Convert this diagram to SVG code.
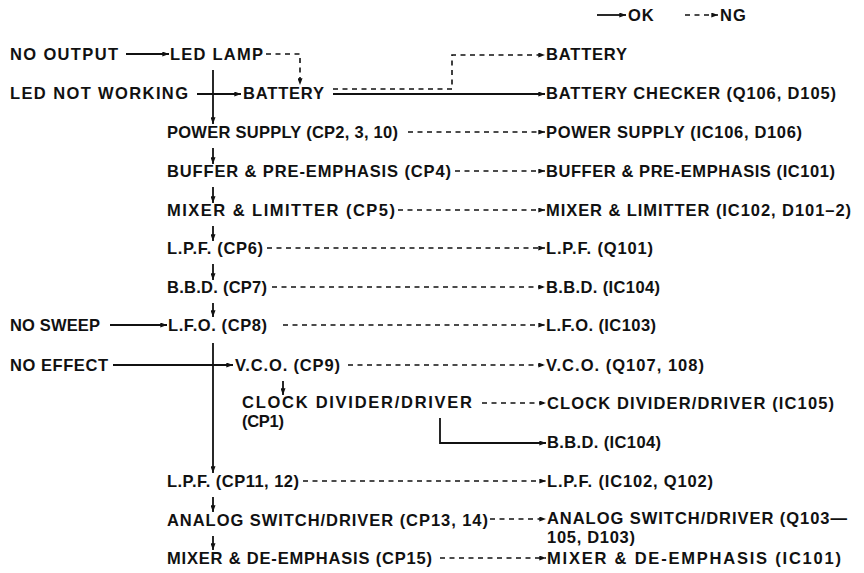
<svg xmlns="http://www.w3.org/2000/svg" width="864" height="573" viewBox="0 0 864 573">
<defs>
<style>
.t{font-family:"Liberation Sans",Arial,sans-serif;font-weight:bold;font-size:16.5px;fill:#111}
.s{stroke:#111;stroke-width:1.8;fill:none}
.d{stroke:#111;stroke-width:1.6;fill:none;stroke-dasharray:5 4.5}
</style>
<marker id="a" viewBox="0 0 8 6" markerWidth="7" markerHeight="5" refX="8" refY="3" orient="auto" markerUnits="userSpaceOnUse">
<path d="M0,0 L8,3 L0,6 z" fill="#111"/>
</marker>
</defs>
<rect width="864" height="573" fill="#fff"/>

<g id="legend">
<line class="s" x1="597" y1="15" x2="626" y2="15" marker-end="url(#a)"/>
<text class="t" x="628" y="21" letter-spacing="1">OK</text>
<line class="d" x1="685" y1="15" x2="718" y2="15" marker-end="url(#a)"/>
<text class="t" x="720" y="21" letter-spacing="1">NG</text>
</g>

<g id="connectors">
<line class="s" x1="126" y1="54" x2="169" y2="54" marker-end="url(#a)"/>
<path class="d" d="M266,54 H300 V85" marker-end="url(#a)"/>
<line class="s" x1="197" y1="94" x2="241" y2="94" marker-end="url(#a)"/>
<line class="s" x1="213" y1="70" x2="213" y2="124" marker-end="url(#a)"/>
<line class="s" x1="333" y1="94" x2="545" y2="94" marker-end="url(#a)"/>
<path class="d" d="M333,89 H452 V55 H545" marker-end="url(#a)"/>
<line class="d" x1="408" y1="132" x2="545" y2="132" marker-end="url(#a)"/>
<line class="s" x1="213" y1="148" x2="213" y2="164" marker-end="url(#a)"/>
<line class="d" x1="455" y1="171" x2="545" y2="171" marker-end="url(#a)"/>
<line class="s" x1="213" y1="187" x2="213" y2="203" marker-end="url(#a)"/>
<line class="d" x1="398" y1="210" x2="545" y2="210" marker-end="url(#a)"/>
<line class="s" x1="213" y1="226" x2="213" y2="241" marker-end="url(#a)"/>
<line class="d" x1="267" y1="248" x2="545" y2="248" marker-end="url(#a)"/>
<line class="s" x1="213" y1="264" x2="213" y2="280" marker-end="url(#a)"/>
<line class="d" x1="272" y1="287" x2="545" y2="287" marker-end="url(#a)"/>
<line class="s" x1="213" y1="303" x2="213" y2="317" marker-end="url(#a)"/>
<line class="s" x1="110" y1="325" x2="167" y2="325" marker-end="url(#a)"/>
<line class="d" x1="283" y1="325" x2="545" y2="325" marker-end="url(#a)"/>
<line class="s" x1="113" y1="365" x2="233" y2="365" marker-end="url(#a)"/>
<line class="s" x1="213" y1="343" x2="213" y2="473" marker-end="url(#a)"/>
<line class="d" x1="348" y1="365" x2="545" y2="365" marker-end="url(#a)"/>
<line class="s" x1="283" y1="381" x2="283" y2="395" marker-end="url(#a)"/>
<line class="d" x1="482" y1="403" x2="546" y2="403" marker-end="url(#a)"/>
<path class="s" d="M440,418 V443 H546" marker-end="url(#a)"/>
<line class="d" x1="303" y1="481" x2="546" y2="481" marker-end="url(#a)"/>
<line class="s" x1="213" y1="497" x2="213" y2="512" marker-end="url(#a)"/>
<line class="d" x1="490" y1="519" x2="546" y2="519" marker-end="url(#a)"/>
<line class="s" x1="213" y1="536" x2="213" y2="550" marker-end="url(#a)"/>
<line class="d" x1="440" y1="558" x2="546" y2="558" marker-end="url(#a)"/>
</g>

<g id="n-no-output"><text class="t" x="10" y="60" textLength="108">NO OUTPUT</text></g>
<g id="n-led-lamp"><text class="t" x="170" y="60" textLength="93">LED LAMP</text></g>
<g id="n-battery-ng"><text class="t" x="546" y="60" textLength="81">BATTERY</text></g>
<g id="n-led-not-working"><text class="t" x="10" y="99" textLength="178">LED NOT WORKING</text></g>
<g id="n-battery"><text class="t" x="243" y="99" textLength="81">BATTERY</text></g>
<g id="n-battery-checker"><text class="t" x="546" y="99" textLength="290">BATTERY CHECKER (Q106, D105)</text></g>
<g id="n-power"><text class="t" x="167" y="138" textLength="231">POWER SUPPLY (CP2, 3, 10)</text></g>
<g id="n-power-ng"><text class="t" x="546" y="138" textLength="256">POWER SUPPLY (IC106, D106)</text></g>
<g id="n-buffer"><text class="t" x="167" y="177" textLength="284">BUFFER &amp; PRE-EMPHASIS (CP4)</text></g>
<g id="n-buffer-ng"><text class="t" x="546" y="177" textLength="289">BUFFER &amp; PRE-EMPHASIS (IC101)</text></g>
<g id="n-mixer"><text class="t" x="167" y="216" textLength="228">MIXER &amp; LIMITTER (CP5)</text></g>
<g id="n-mixer-ng"><text class="t" x="546" y="216" textLength="305">MIXER &amp; LIMITTER (IC102, D101–2)</text></g>
<g id="n-lpf"><text class="t" x="167" y="254" textLength="96">L.P.F. (CP6)</text></g>
<g id="n-lpf-ng"><text class="t" x="546" y="254" textLength="107">L.P.F. (Q101)</text></g>
<g id="n-bbd"><text class="t" x="167" y="293" textLength="100">B.B.D. (CP7)</text></g>
<g id="n-bbd-ng"><text class="t" x="546" y="293" textLength="114">B.B.D. (IC104)</text></g>
<g id="n-no-sweep"><text class="t" x="10" y="331" textLength="90">NO SWEEP</text></g>
<g id="n-lfo"><text class="t" x="168" y="331" textLength="99">L.F.O. (CP8)</text></g>
<g id="n-lfo-ng"><text class="t" x="546" y="331" textLength="110">L.F.O. (IC103)</text></g>
<g id="n-no-effect"><text class="t" x="10" y="371" textLength="98">NO EFFECT</text></g>
<g id="n-vco"><text class="t" x="235" y="371" textLength="105">V.C.O. (CP9)</text></g>
<g id="n-vco-ng"><text class="t" x="546" y="371" textLength="158">V.C.O. (Q107, 108)</text></g>
<g id="n-clock"><text class="t" x="242" y="408" textLength="230">CLOCK DIVIDER/DRIVER</text><text class="t" x="242" y="427" textLength="42">(CP1)</text></g>
<g id="n-clock-ng"><text class="t" x="547" y="409" textLength="287">CLOCK DIVIDER/DRIVER (IC105)</text></g>
<g id="n-bbd2-ng"><text class="t" x="547" y="448" textLength="114">B.B.D. (IC104)</text></g>
<g id="n-lpf2"><text class="t" x="167" y="487" textLength="132">L.P.F. (CP11, 12)</text></g>
<g id="n-lpf2-ng"><text class="t" x="547" y="487" textLength="166">L.P.F. (IC102, Q102)</text></g>
<g id="n-analog"><text class="t" x="167" y="526" textLength="321">ANALOG SWITCH/DRIVER (CP13, 14)</text></g>
<g id="n-analog-ng"><text class="t" x="547" y="524" textLength="300">ANALOG SWITCH/DRIVER (Q103—</text><text class="t" x="547" y="543" textLength="88">105, D103)</text></g>
<g id="n-mixer2"><text class="t" x="167" y="564" textLength="265">MIXER &amp; DE-EMPHASIS (CP15)</text></g>
<g id="n-mixer2-ng"><text class="t" x="547" y="564" textLength="294">MIXER &amp; DE-EMPHASIS (IC101)</text></g>
</svg>
